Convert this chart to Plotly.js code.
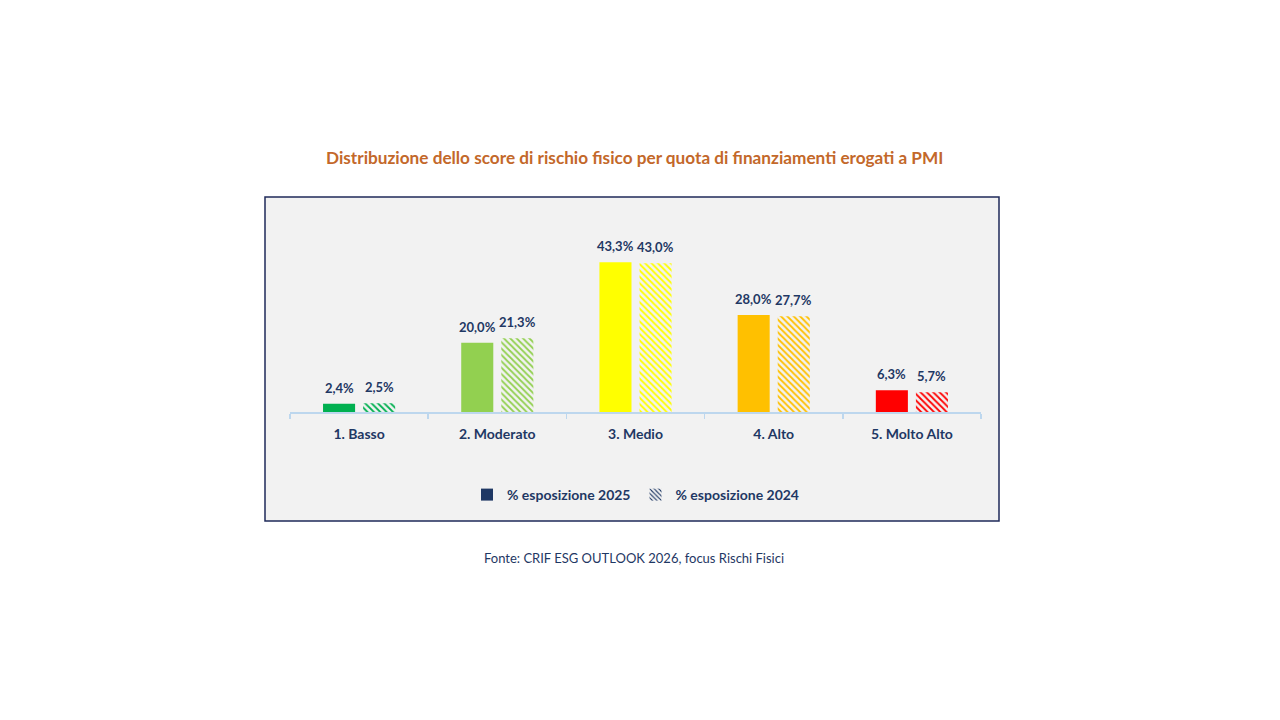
<!DOCTYPE html>
<html><head><meta charset="utf-8">
<script src="https://cdn.plot.ly/plotly-3.0.1.min.js"></script>
<style>body{margin:0;background:#fff}#c{width:1280px;height:720px}</style>
</head><body><div id="c"></div>
<script>
const categories = ['1. Basso','2. Moderato','3. Medio','4. Alto','5. Molto Alto'];
const values2025 = [2.4, 20.0, 43.3, 28.0, 6.3];
const values2024 = [2.5, 21.3, 43.0, 27.7, 5.7];
const barColors = ['#00b050','#92d050','#ffff00','#ffc000','#ff0000'];
const seriesNames = ['% esposizione 2025','% esposizione 2024'];
const titleText = 'Distribuzione dello score di rischio fisico per quota di finanziamenti erogati a PMI';
const sourceText = 'Fonte: CRIF ESG OUTLOOK 2026, focus Rischi Fisici';

const W=1280,H=720;
const L=290,R=981,B=412,T=239;
const px=x=>(x-L)/(R-L);
const py=y=>(B-y)/(B-T);
const navy='#1f3864';
const FONT='Lato, "Open Sans", sans-serif';
const BARGAP=0.42;
const slot=(1-BARGAP)/2;

const traces=[
 {type:'bar',x:categories,y:values2025,name:seriesNames[0],showlegend:false,
  marker:{color:barColors,line:{width:0}},hoverinfo:'x+y'},
 {type:'bar',x:categories,y:values2024,name:seriesNames[1],showlegend:false,
  marker:{color:barColors,line:{width:0},
   pattern:{shape:'\\',fgcolor:barColors,bgcolor:'#ffffff',size:4.5,solidity:0.4,fillmode:'replace'}},
  hoverinfo:'x+y'},
 {type:'bar',x:[null],y:[null],name:seriesNames[0],xaxis:'x2',yaxis:'y2',
  marker:{color:navy}},
 {type:'bar',x:[null],y:[null],name:seriesNames[1],xaxis:'x2',yaxis:'y2',
  marker:{color:navy,pattern:{shape:'\\',fgcolor:navy,bgcolor:'rgba(255,255,255,0)',size:4,solidity:0.35,fillmode:'replace'}}}
];

const fmt=v=>v.toFixed(1).replace('.',',')+'%';
const labelAnns=[];
[values2025,values2024].forEach((vals,s)=>{
  vals.forEach((v,i)=>{
    labelAnns.push({xref:'x',yref:'y',x:i+(s===0?-slot/2:slot/2),y:v,xanchor:'center',yanchor:'bottom',
      yshift:6,showarrow:false,text:fmt(v),font:{family:FONT,size:13,color:navy,weight:'bold'}});
  });
});

const layout={
 width:W,height:H,
 margin:{l:L,r:W-R,t:T,b:H-B,pad:0},
 paper_bgcolor:'#ffffff',plot_bgcolor:'rgba(0,0,0,0)',
 separators:',.',
 font:{family:FONT,color:navy},
 barmode:'group',bargap:BARGAP,bargroupgap:0.2,
 showlegend:true,
 legend:{orientation:'h',x:0.5,xanchor:'center',y:py(495),yanchor:'middle',
  font:{family:FONT,size:14,color:navy,weight:'bold'},bgcolor:'rgba(0,0,0,0)',
  itemwidth:30,tracegroupgap:0},
 xaxis:{type:'category',showline:true,linecolor:'#bdd7ee',linewidth:1.5,
  ticks:'outside',tickson:'boundaries',ticklen:5,tickcolor:'#bdd7ee',tickwidth:1.5,ticklabelstandoff:9,
  tickfont:{family:FONT,size:14,color:navy,weight:'bold'},showgrid:false,zeroline:false,fixedrange:true},
 yaxis:{range:[0,50],visible:false,showgrid:false,zeroline:false,fixedrange:true},
 xaxis2:{visible:false,domain:[0,0.01],anchor:'y2'},
 yaxis2:{visible:false,domain:[0,0.01],anchor:'x2'},
 shapes:[{type:'rect',xref:'paper',yref:'paper',x0:px(265),x1:px(999),y0:py(521),y1:py(197),
  fillcolor:'#f2f2f2',line:{color:'#1f2a5a',width:1.5},layer:'below'}],
 annotations:[
  {xref:'paper',yref:'paper',x:px(634),y:py(157),xanchor:'center',yanchor:'middle',showarrow:false,
   text:titleText,font:{family:FONT,size:17.2,color:'#c3682a',weight:'bold'}},
  {xref:'paper',yref:'paper',x:px(634),y:py(558),xanchor:'center',yanchor:'middle',showarrow:false,
   text:sourceText,font:{family:FONT,size:13,color:navy}}
 ].concat(labelAnns)
};
Plotly.newPlot('c',traces,layout,{displayModeBar:false,staticPlot:true});
</script></body></html>
